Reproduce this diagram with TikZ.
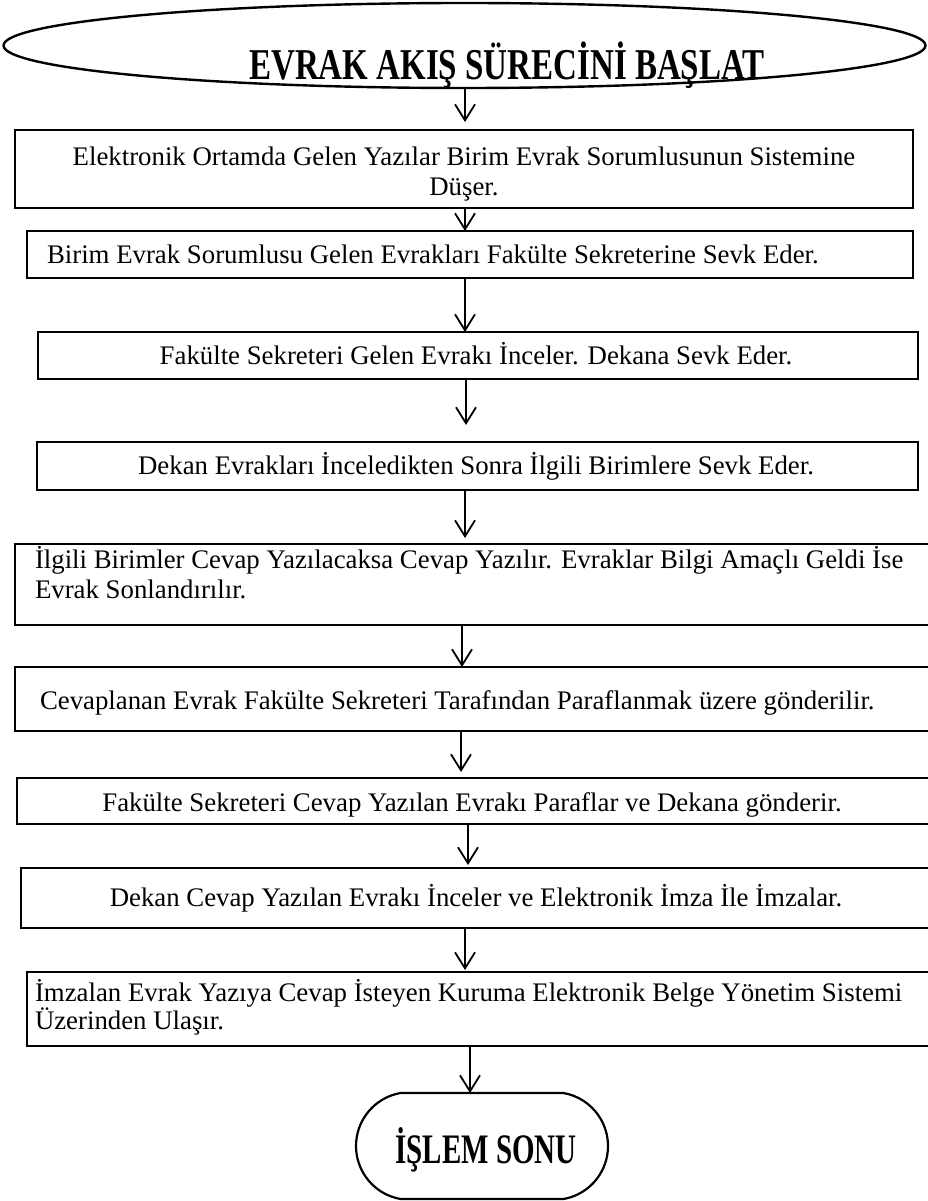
\documentclass[tikz,border=0pt]{standalone}
\usepackage{graphicx}
\usepackage{fontspec}
\setmainfont{Liberation Serif}[BoldFont={Liberation Serif Bold}]
\usetikzlibrary{arrows.meta,shapes.geometric,shapes.misc}

\begin{document}
\begin{tikzpicture}[x=1pt,y=-1pt,
  stepbox/.style={draw=black,line width=1.5pt,rectangle,inner sep=0pt,outer sep=0pt,anchor=north west},
  txt/.style={inner sep=0pt,outer sep=0pt,font=\fontsize{26.8}{30}\selectfont},
  arr/.style={line width=1.8pt,-{Straight Barb[length=16pt,width=20pt,line width=1.8pt]}}
]
\clip (0,0) rectangle (928,1201);
\useasboundingbox (0,0) rectangle (928,1201);

% start terminal
\node[ellipse,draw=black,line width=2.4pt,minimum width=922pt,minimum height=85pt,inner sep=0pt,outer sep=0pt] (start) at (464.5,45.5) {};
\node[txt,anchor=base,font=\fontsize{44}{48}\selectfont\bfseries] (title) at (507,80) {\scalebox{0.75}[1]{EVRAK AKIŞ SÜRECİNİ BAŞLAT}};

% process boxes
\node[stepbox,minimum width=898pt,minimum height=78pt] (b1) at (15,130) {};
\node[stepbox,minimum width=886pt,minimum height=47pt] (b2) at (27,231) {};
\node[stepbox,minimum width=880pt,minimum height=47pt] (b3) at (38,332) {};
\node[stepbox,minimum width=881pt,minimum height=48pt] (b4) at (37,442) {};
\node[stepbox,minimum width=925pt,minimum height=81pt] (b5) at (15,544) {};
\node[stepbox,minimum width=925pt,minimum height=64pt] (b6) at (15,667) {};
\node[stepbox,minimum width=923pt,minimum height=46pt] (b7) at (17,778) {};
\node[stepbox,minimum width=919pt,minimum height=60pt] (b8) at (21,868) {};
\node[stepbox,minimum width=913pt,minimum height=74pt] (b9) at (27,972) {};

% box texts
\node[txt,anchor=base] (t1a) at (464,166) {Elektronik Ortamda Gelen Yazılar Birim Evrak Sorumlusunun Sistemine};
\node[txt,anchor=base] (t1b) at (464,196) {Düşer.};
\node[txt,anchor=base west] (t2) at (47,263) {Birim Evrak Sorumlusu Gelen Evrakları Fakülte Sekreterine Sevk Eder.};
\node[txt,anchor=base] (t3) at (476,364) {Fakülte Sekreteri Gelen Evrakı İnceler. Dekana Sevk Eder.};
\node[txt,anchor=base] (t4) at (476,474) {Dekan Evrakları İnceledikten Sonra İlgili Birimlere Sevk Eder.};
\node[txt,anchor=base west] (t5a) at (35,568) {İlgili Birimler Cevap Yazılacaksa Cevap Yazılır. Evraklar Bilgi Amaçlı Geldi İse};
\node[txt,anchor=base west] (t5b) at (35,598) {Evrak Sonlandırılır.};
\node[txt,anchor=base west] (t6) at (40,709) {Cevaplanan Evrak Fakülte Sekreteri Tarafından Paraflanmak üzere gönderilir.};
\node[txt,anchor=base] (t7) at (472,811) {Fakülte Sekreteri Cevap Yazılan Evrakı Paraflar ve Dekana gönderir.};
\node[txt,anchor=base] (t8) at (476,906) {Dekan Cevap Yazılan Evrakı İnceler ve Elektronik İmza İle İmzalar.};
\node[txt,anchor=base west] (t9a) at (35,1001) {İmzalan Evrak Yazıya Cevap İsteyen Kuruma Elektronik Belge Yönetim Sistemi};
\node[txt,anchor=base west] (t9b) at (35,1029) {Üzerinden Ulaşır.};

% end terminal
\node[rounded rectangle,rounded rectangle arc length=160,draw=black,line width=2.2pt,minimum width=252pt,minimum height=106pt,inner sep=0pt,outer sep=0pt] (end) at (482,1146) {};
\node[txt,anchor=base,font=\fontsize{42}{46}\selectfont\bfseries] (endtxt) at (486,1163) {\scalebox{0.69}[1]{İŞLEM SONU}};

% arrow columns
\coordinate (c1) at (465,0);
\coordinate (c4) at (466,0);
\coordinate (c6) at (462,0);
\coordinate (c7) at (461,0);
\coordinate (c8) at (468,0);
\coordinate (c10) at (470,0);

% connectors
\draw[arr] (start.south -| c1) -- ([yshift=8pt]b1.north -| c1);
\draw[arr] (b1.south -| c1) -- (b2.north -| c1);
\draw[arr] (b2.south -| c1) -- (b3.north -| c1);
\draw[arr] (b3.south -| c4) -- ([yshift=17pt]b4.north -| c4);
\draw[arr] (b4.south -| c1) -- ([yshift=6pt]b5.north -| c1);
\draw[arr] (b5.south -| c6) -- (b6.north -| c6);
\draw[arr] (b6.south -| c7) -- ([yshift=6pt]b7.north -| c7);
\draw[arr] (b7.south -| c8) -- ([yshift=3pt]b8.north -| c8);
\draw[arr] (b8.south -| c1) -- ([yshift=2pt]b9.north -| c1);
\draw[arr] (b9.south -| c10) -- (end.north -| c10);
\end{tikzpicture}
\end{document}
